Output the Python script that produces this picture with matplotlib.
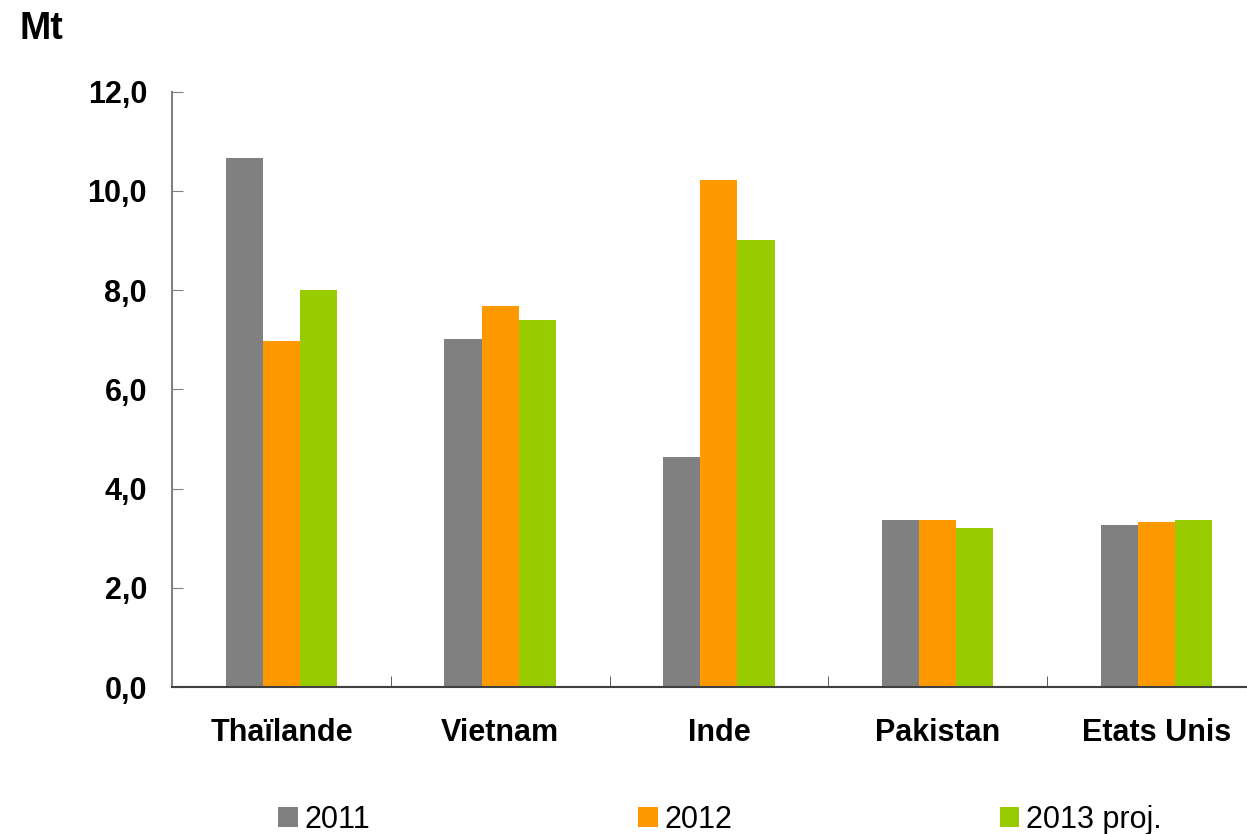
import numpy as np
import matplotlib.pyplot as plt
from matplotlib.ticker import FuncFormatter

pays = ["Thaïlande", "Vietnam", "Inde", "Pakistan", "Etats Unis"]
annees = ["2011", "2012", "2013 proj."]
val_2011 = [10.67, 7.02, 4.64, 3.37, 3.27]
val_2012 = [6.98, 7.68, 10.22, 3.37, 3.33]
val_2013 = [8.0, 7.40, 9.01, 3.21, 3.37]
couleurs = ["#808080", "#FF9900", "#99CC00"]


def main():
    plt.rcParams['font.family'] = ['Liberation Sans', 'DejaVu Sans']

    fig = plt.figure(figsize=(12.47, 8.34), dpi=100)
    ax = fig.add_axes([0.138, 0.176, 0.877, 0.714])

    x = np.arange(len(pays))
    largeur = 0.17
    series = [val_2011, val_2012, val_2013]
    for i, (vals, nom, c) in enumerate(zip(series, annees, couleurs)):
        ax.bar(x + (i - 1) * largeur, vals, largeur, color=c, label=nom)

    ax.set_xlim(-0.5, len(pays) - 0.5)
    ax.set_ylim(0, 12)
    ax.set_yticks(np.arange(0, 12.1, 2))
    ax.yaxis.set_major_formatter(FuncFormatter(lambda v, p: f"{v:.1f}".replace('.', ',')))

    ax.set_xticks(x)
    ax.set_xticklabels(pays, fontsize=22, fontweight='bold')
    ax.set_xticks(np.arange(0.5, len(pays) - 0.5, 1), minor=True)
    ax.tick_params(axis='x', which='major', length=0, pad=22)
    ax.tick_params(axis='x', which='minor', direction='in', length=8, color='#404040')
    ax.tick_params(axis='y', direction='in', length=8, color='#808080', pad=18, labelsize=22)
    for lab in ax.get_yticklabels():
        lab.set_fontweight('bold')

    for s in ['top', 'right']:
        ax.spines[s].set_visible(False)
    ax.spines['left'].set_color('#808080')
    ax.spines['left'].set_linewidth(1.5)
    ax.spines['bottom'].set_color('#404040')
    ax.spines['bottom'].set_linewidth(1.5)

    fig.text(0.016, 0.965, "Mt", fontsize=27, fontweight='bold', va='center', ha='left')

    fig.legend(loc='center left', bbox_to_anchor=(0.223, 0.017), ncol=3, frameon=False,
               fontsize=22, handlelength=0.65, handleheight=0.65, handletextpad=0.22,
               columnspacing=8.75, borderaxespad=0, borderpad=0)

    plt.savefig("out.png", dpi=100)


if __name__ == "__main__":
    main()
